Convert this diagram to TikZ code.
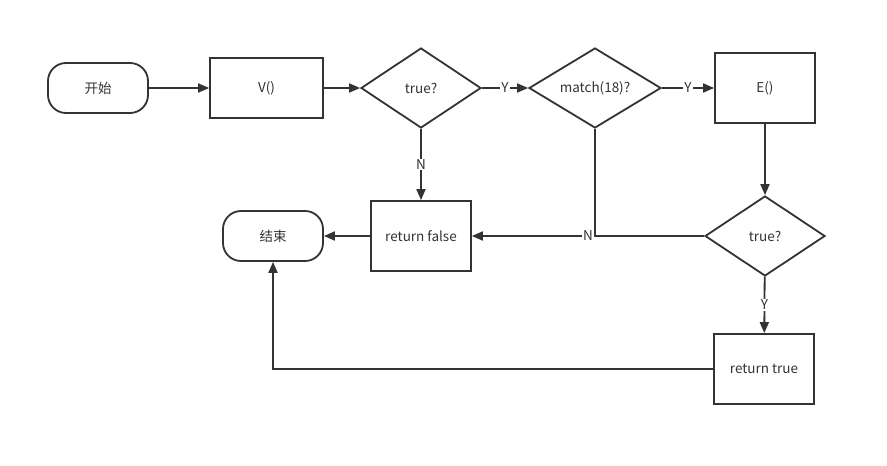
\documentclass[tikz,border=0pt]{standalone}
\usepackage{fontspec}
\setmainfont{Noto Sans CJK SC}
\usetikzlibrary{shapes.geometric,arrows.meta}
\definecolor{ln}{HTML}{333333}
\begin{document}
\begin{tikzpicture}[x=1pt,y=-1pt,
  font=\fontsize{13.5}{16}\selectfont,
  every node/.style={text=ln},
  base/.style={draw=ln,line width=1.8pt,inner sep=0pt},
  term/.style={base,rounded corners=18pt,minimum width=100pt,minimum height=50pt},
  box/.style={base,rectangle,minimum width=#1,minimum height=70pt},
  conn/.style={ln,line width=1.8pt,-{Triangle[length=11pt,width=9pt]}},
  plain/.style={ln,line width=1.8pt},
  lab/.style={fill=white,inner sep=1pt,font=\fontsize{13.5}{16}\selectfont}]
\useasboundingbox (0,0) rectangle (887,466);
\fill[white] (0,0) rectangle (887,466);
\node[term] (start) at (98,88) {开始};
\node[box=113pt,minimum height=60pt] (v) at (266.5,88) {V()};
\node[base,diamond,minimum width=120pt,minimum height=80pt,aspect=1.5] (t1) at (421,88) {true?};
\node[base,diamond,minimum width=132pt,minimum height=80pt,aspect=1.65] (m) at (595,88) {match(18)?};
\node[box=100pt] (e) at (765,88) {E()};
\node[base,diamond,minimum width=120pt,minimum height=80pt,aspect=1.5] (t2) at (765,236) {true?};
\node[box=100pt] (rf) at (421,236) {return false};
\node[term] (end) at (273,236) {结束};
\node[box=100pt] (rt) at (764,369) {return true};
\coordinate (j) at (595,236);
\coordinate (c) at (273,369);
\draw[conn] (start) -- (v);
\draw[conn] (v) -- (t1);
\draw[conn] (t1) -- node[lab,pos=0.5]{Y} (m);
\draw[conn] (m) -- node[lab,pos=0.5]{Y} (e);
\draw[conn] (t1) -- node[lab,pos=0.5]{N} (rf);
\draw[conn] (e) -- (t2);
\draw[plain] (m.south) -- (j);
\draw[conn] (t2.west) -- node[lab,pos=0.5]{N} (rf.east);
\draw[conn] (t2) -- node[lab,pos=0.5]{Y} (rt);
\draw[conn] (rf) -- (end);
\draw[conn] (rt.west) -- (c) -- (end.south);
\end{tikzpicture}
\end{document}
